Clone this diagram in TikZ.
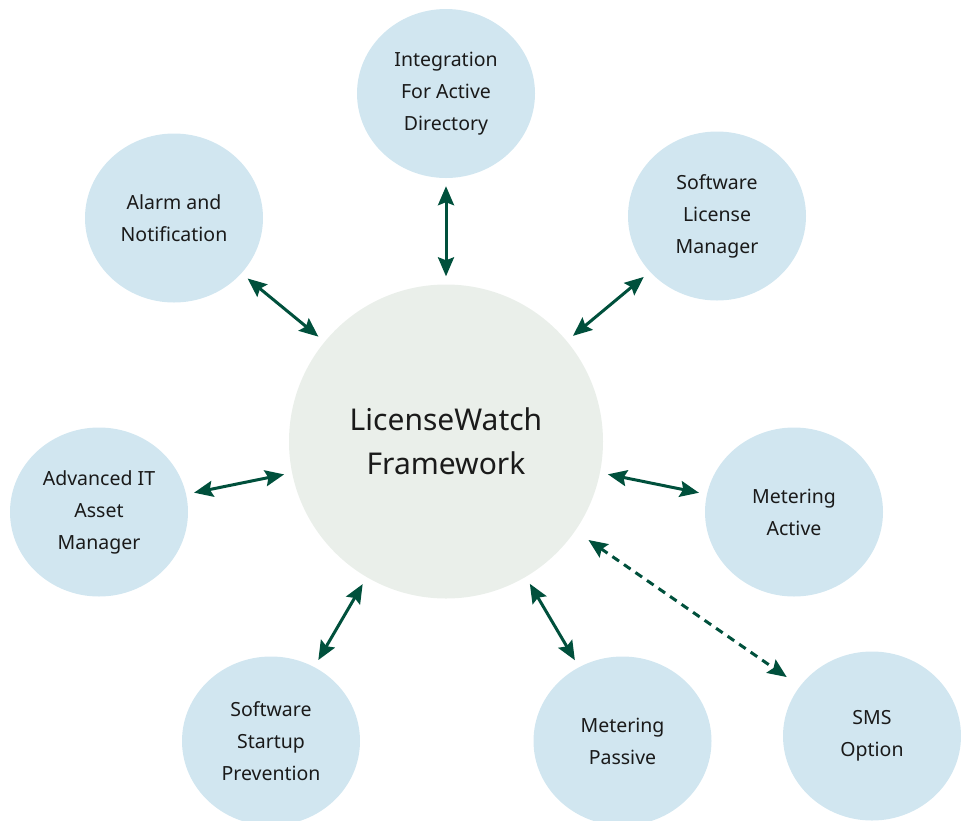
\documentclass[tikz,border=0pt]{standalone}
\usepackage{fontspec}
\setmainfont{Noto Sans}
\usetikzlibrary{shapes.geometric,arrows.meta}
\definecolor{satfill}{HTML}{D1E6F0}
\definecolor{hubfill}{HTML}{EAEFEA}
\definecolor{arrowgreen}{HTML}{00503C}
\definecolor{txt}{HTML}{1A1A1A}
\tikzset{
  sat/.style={ellipse, fill=satfill, draw=none, minimum width=178pt, minimum height=169pt,
    inner sep=0pt, align=center, text=txt, font=\fontsize{19.5}{32}\selectfont},
  hub/.style={circle, fill=hubfill, draw=none, minimum size=314pt, inner sep=0pt,
    align=center, text=txt, font=\fontsize{30}{44}\selectfont},
  link/.style={draw=arrowgreen, line width=3pt,
    {Stealth[length=19pt,width=16pt,inset=3pt]}-{Stealth[length=19pt,width=16pt,inset=3pt]},
    shorten <=8pt, shorten >=8pt},
  dlink/.style={link, dash pattern=on 8pt off 6pt, shorten <=16pt, shorten >=16pt}
}
\begin{document}
\begin{tikzpicture}[x=1pt,y=-1pt]
\useasboundingbox (0,0) rectangle (961,820);
\clip (0,0) rectangle (961,820);
\node[hub] (hub) at (446,441.5) {LicenseWatch\\Framework};
\node[sat] (iad) at (446,93.5) {Integration\\For Active\\Directory};
\node[sat] (alarm) at (174,218) {Alarm and\\Notification};
\node[sat] (slm) at (717,216) {Software\\License\\Manager};
\node[sat] (ait) at (99,512) {Advanced IT\\Asset\\Manager};
\node[sat] (mact) at (794,512) {Metering\\Active};
\node[sat] (ssp) at (271,741) {Software\\Startup\\Prevention};
\node[sat] (mpas) at (622.5,741) {Metering\\Passive};
\node[sat] (sms) at (872,736) {SMS\\Option};
\draw[link] (hub) -- (iad);
\draw[link] (hub) -- (alarm);
\draw[link] (hub) -- (slm);
\draw[link] (hub) -- (ait);
\draw[link] (hub) -- (mact);
\draw[link] (hub) -- (ssp);
\draw[link] (hub) -- (mpas);
\draw[dlink] (hub) -- (sms);
\end{tikzpicture}
\end{document}
